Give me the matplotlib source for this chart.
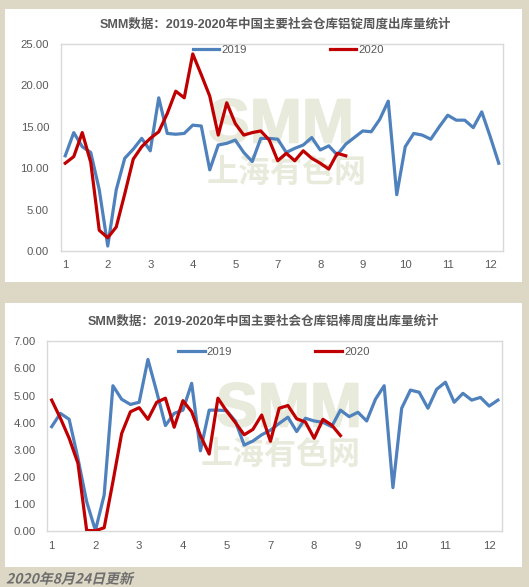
import matplotlib
matplotlib.use('Agg')
import matplotlib.pyplot as plt
import matplotlib.patheffects as pe
from matplotlib.patches import Rectangle
from matplotlib.transforms import Affine2D

# weekly outflow, aluminium ingot (10k t)
ingot_2019 = [11.5, 14.3, 12.6, 11.9, 7.4, 0.6, 7.4, 11.2, 12.3, 13.6,
              12.1, 18.5, 14.2, 14.1, 14.2, 15.2, 15.1, 9.8, 12.8, 13.0,
              13.4, 11.9, 10.8, 13.6, 13.6, 13.5, 11.9, 12.4, 12.8, 13.7,
              12.2, 12.7, 11.6, 12.9, 13.7, 14.5, 14.4, 15.9, 18.1, 6.8,
              12.6, 14.2, 14.0, 13.5, 15.0, 16.4, 15.8, 15.8, 14.9, 16.8,
              13.8, 10.6]
ingot_2020 = [10.6, 11.4, 14.3, 10.7, 2.5, 1.6, 2.9, 6.9, 11.1, 12.6,
              13.6, 14.4, 16.6, 19.3, 18.5, 23.8, 21.3, 18.7, 14.0, 17.9,
              15.4, 14.0, 14.3, 14.5, 13.4, 10.9, 11.8, 10.9, 12.1, 11.2,
              10.6, 9.9, 11.8, 11.5]

# weekly outflow, aluminium rod (10k t)
rod_2019 = [3.85, 4.34, 4.12, 2.68, 1.08, 0.02, 1.33, 5.36, 4.86, 4.67,
            4.75, 6.33, 5.14, 3.89, 4.34, 4.46, 5.45, 2.96, 4.46, 4.46,
            4.44, 4.05, 3.17, 3.32, 3.55, 3.72, 3.97, 4.20, 3.67, 4.16,
            4.06, 4.01, 3.85, 4.46, 4.22, 4.38, 4.06, 4.86, 5.36, 1.60,
            4.53, 5.20, 5.12, 4.53, 5.23, 5.49, 4.75, 5.08, 4.83, 4.93,
            4.61, 4.83]
rod_2020 = [4.83, 4.16, 3.42, 2.50, 0.02, 0.01, 0.12, 1.82, 3.60, 4.40,
            4.55, 4.12, 4.75, 4.90, 3.83, 4.81, 4.40, 3.52, 2.84, 4.90,
            4.42, 4.00, 3.55, 3.75, 4.28, 3.31, 4.53, 4.63, 4.14, 4.02,
            3.42, 4.12, 3.91, 3.52]

month_labels = ['1', '2', '3', '4', '5', '7', '8', '9', '10', '11', '12']
series_names = ['2019', '2020']

title_top = 'SMM数据：2019-2020年中国主要社会仓库铝锭周度出库量统计'
title_bot = 'SMM数据：2019-2020年中国主要社会仓库铝棒周度出库量统计'
footer = '2020年8月24日更新'

BLUE = '#4f81bd'
RED = '#c00000'
GREY = '#595959'
WM = '#e8ebdc'
BG = '#ddd8c5'

plt.rcParams['font.family'] = ['Liberation Sans', 'Noto Sans CJK SC', 'DejaVu Sans']

W, H = 529, 587
fig = plt.figure(figsize=(W / 100, H / 100), dpi=100, facecolor=BG)


def fx(x):
    return x / W


def fy(y):
    return 1 - y / H


class Oblique(pe.AbstractPathEffect):
    # fake italic: skew the glyph paths around the baseline
    def __init__(self, y0, deg=14):
        super().__init__()
        self.y0 = y0
        self.deg = deg

    def draw_path(self, renderer, gc, tpath, affine, rgbFace=None):
        sk = Affine2D().translate(0, -self.y0).skew_deg(self.deg, 0).translate(0, self.y0)
        renderer.draw_path(gc, tpath, affine + sk, rgbFace)


# white panels
for y0, y1 in [(9, 282), (303, 567)]:
    fig.add_artist(Rectangle((fx(5), fy(y1)), fx(517), (y1 - y0) / H,
                             transform=fig.transFigure, facecolor='white',
                             edgecolor='none', zorder=-5))


def panel(rect, y2019, y2020, ymax, step, title, title_xy, leg_x, leg_y, wm_smm, wm_cn, xpad):
    ax = fig.add_axes(rect)
    ax.set_facecolor('none')
    weeks = range(len(y2019))
    ax.plot(weeks, y2019, color=BLUE, lw=2.3, label=series_names[0], zorder=3)
    ax.plot(range(len(y2020)), y2020, color=RED, lw=2.3, label=series_names[1], zorder=4)
    ax.set_xlim(-0.5, len(y2019) - 0.5)
    ax.set_ylim(0, ymax)
    yt = [i * step for i in range(int(round(ymax / step)) + 1)]
    ax.set_yticks(yt)
    ax.set_yticklabels(['%.2f' % v for v in yt])
    ax.set_xticks(range(0, len(y2019), 5))
    ax.set_xticklabels(month_labels)
    ax.tick_params(length=0, colors=GREY, labelsize=8.2)
    ax.tick_params(axis='y', pad=8.5)
    ax.tick_params(axis='x', pad=xpad)
    for s in ax.spines.values():
        s.set_color('#d9d9d9')
        s.set_linewidth(1)
    leg = ax.legend(loc='upper center', bbox_to_anchor=(leg_x, leg_y), ncol=2,
                    frameon=False, fontsize=8.2, handlelength=2.3,
                    handletextpad=0.2, columnspacing=7.3, borderaxespad=0,
                    borderpad=0.2)
    for t in leg.get_texts():
        t.set_color(GREY)
    # watermark
    ax.text(fx(wm_smm[0]), fy(wm_smm[1]), 'SMM', transform=fig.transFigure,
            fontsize=45, fontweight='bold', color=WM, ha='center', va='center',
            path_effects=[pe.withStroke(linewidth=1.2, foreground=WM)], zorder=1)
    ax.text(fx(wm_cn[0]), fy(wm_cn[1]), '上海有色网', transform=fig.transFigure,
            fontsize=23, fontweight='bold', color=WM, ha='center', va='center',
            family=['Noto Sans CJK SC'], zorder=1)
    fig.text(fx(title_xy[0]), fy(title_xy[1]), title, ha='center', va='center',
             fontsize=9, fontweight='bold', color=GREY)
    return ax


panel([fx(61), fy(251), fx(442), 207 / H], ingot_2019, ingot_2020, 25, 5,
      title_top, (275, 24), 0.514, 1.008, (281, 126), (287, 173), 6.5)
panel([fx(47.3), fy(531), fx(455), 189.7 / H], rod_2019, rod_2020, 7, 1,
      title_bot, (263, 321), 0.498, 0.982, (289, 410), (281, 455), 7.5)

base = 3.5
fig.text(fx(6), base / H, footer, ha='left', va='baseline', fontsize=10,
         fontweight='bold', color='#6e6e6e', family=['Noto Sans CJK SC'],
         path_effects=[Oblique(base)])

fig.savefig('out.png', dpi=100, facecolor=BG)
